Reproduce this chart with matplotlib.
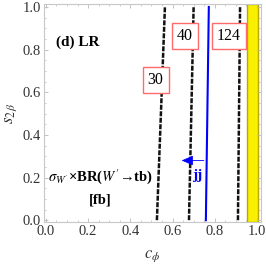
import matplotlib
matplotlib.use("Agg")
import matplotlib.pyplot as plt
import numpy as np
from matplotlib.ticker import MultipleLocator, FormatStrFormatter

# contour lines of sigma x BR (fb), given as c_phi at a few s_2beta values
S_VALS = [0.0, 0.5, 1.0]
CONTOURS = {
    "30": [0.526, 0.545, 0.564],
    "40": [0.678, 0.689, 0.700],
    "124": [0.910, 0.915, 0.920],
}
LABEL_POS = {"30": (0.52, 0.657), "40": (0.66, 0.864), "124": (0.867, 0.864)}
JJ_LINE = [0.758, 0.765, 0.772]
BAND = (0.953, 1.005)

plt.rcParams["font.family"] = ["Liberation Serif", "DejaVu Serif"]
plt.rcParams["mathtext.fontset"] = "stix"

fig = plt.figure(figsize=(2.66, 2.66), dpi=100)
ax = fig.add_axes([0.165, 0.165, 0.816, 0.82])

ax.axvspan(BAND[0], BAND[1], facecolor="#f8f000", edgecolor="#b8a800", lw=1.0, zorder=1)

for key, cs in CONTOURS.items():
    ax.plot(cs, S_VALS, color="#111111", lw=1.8, ls=(0, (2.0, 0.6)), zorder=3)
    x, y = LABEL_POS[key]
    ax.text(x, y, key, fontsize=11.5, ha="center", va="center", zorder=5,
            bbox=dict(boxstyle="square,pad=0.32", fc="white", ec="#ff6a6a", lw=1.0))

ax.plot(JJ_LINE, S_VALS, color="blue", lw=1.5, zorder=3)
ax.annotate("", xy=(0.63, 0.28), xytext=(0.762, 0.28),
            arrowprops=dict(arrowstyle="-|>,head_length=0.7,head_width=0.3",
                            color="blue", lw=0.6), zorder=4)
ax.text(0.715, 0.21, "jj", color="blue", fontsize=11, fontweight="bold",
        ha="center", va="center")

ax.text(0.15, 0.835, "(d) LR", fontsize=11, fontweight="bold", ha="center", va="center")
ax.text(0.01, 0.206, r"$\boldsymbol{\sigma_{W'}}$" + "\u00d7BR(" + r"$\boldsymbol{W'}$" + "\u2192tb)",
        fontsize=10.5, fontweight="bold", ha="left", va="center")
ax.text(0.256, 0.094, "[fb]", fontsize=10.5, fontweight="bold", ha="center", va="center")

ax.set_xlim(-0.0095, 1.019)
ax.set_ylim(-0.009, 1.014)
ax.xaxis.set_major_locator(MultipleLocator(0.2))
ax.yaxis.set_major_locator(MultipleLocator(0.2))
ax.xaxis.set_minor_locator(MultipleLocator(0.05))
ax.yaxis.set_minor_locator(MultipleLocator(0.05))
ax.xaxis.set_major_formatter(FormatStrFormatter("%.1f"))
ax.yaxis.set_major_formatter(FormatStrFormatter("%.1f"))
ax.tick_params(which="both", direction="in", top=True, right=True, color="#b8b8b8",
               labelsize=10.5, labelcolor="#333333", pad=2)
ax.tick_params(which="major", length=3, width=0.6)
ax.tick_params(which="minor", length=1.5, width=0.5)
for sp in ax.spines.values():
    sp.set_color("#c8c8c8")
    sp.set_linewidth(0.8)

ax.set_xlabel(r"$c_\phi$", fontsize=12, color="#333333", labelpad=7)
ax.set_ylabel(r"$s_{2\,\beta}$", fontsize=12, color="#333333", labelpad=3)

fig.savefig("out.png", dpi=100)
